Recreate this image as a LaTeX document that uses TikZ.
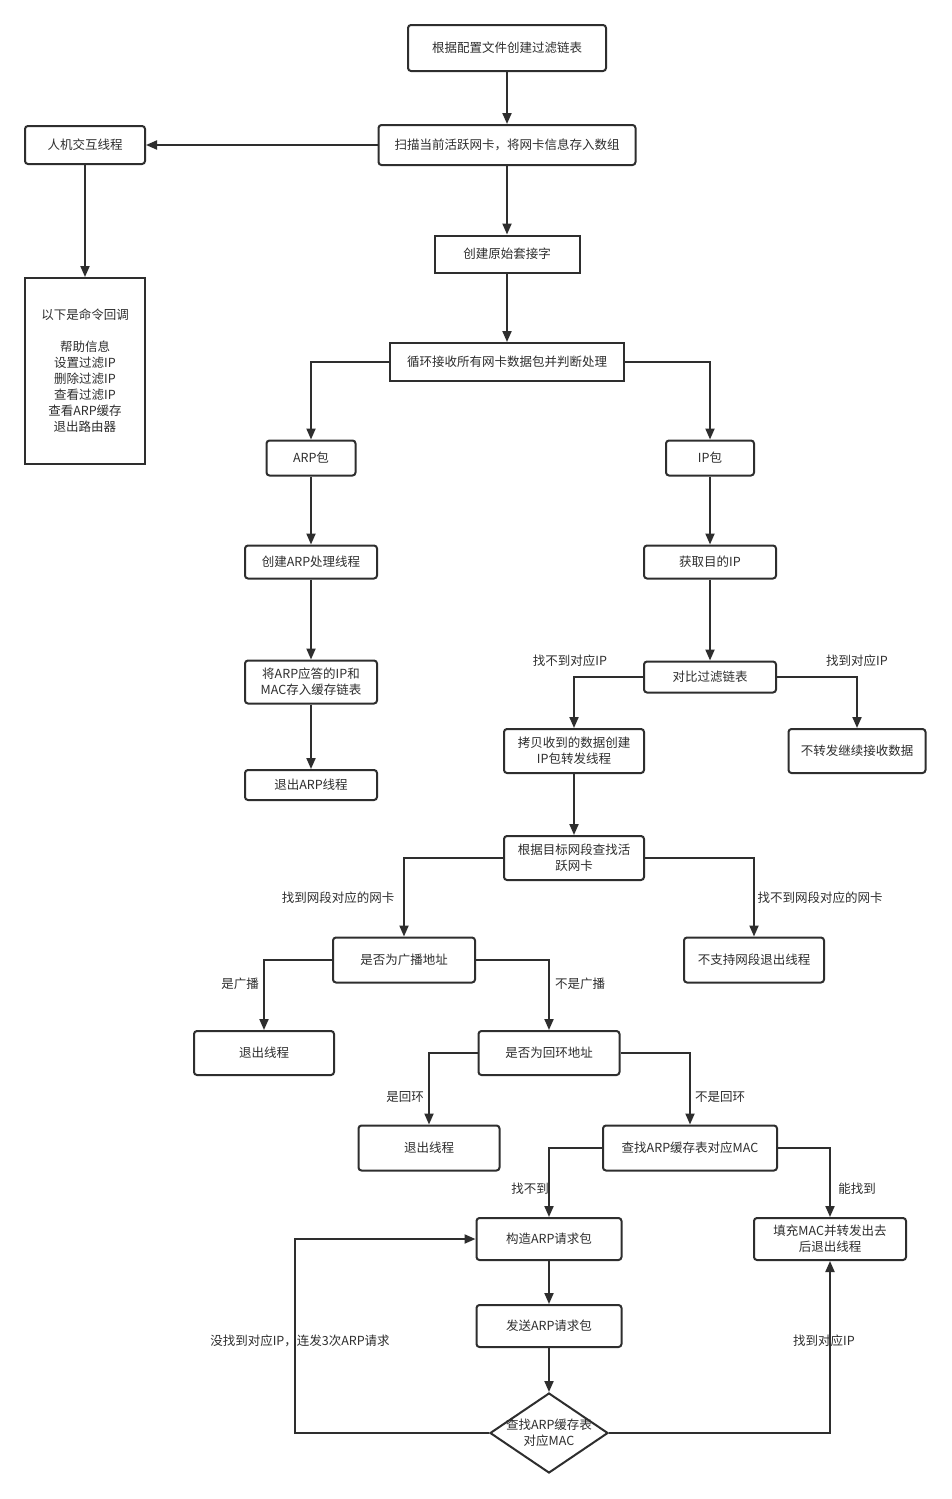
\documentclass[tikz,border=0pt]{standalone}
\usepackage{fontspec}
\setmainfont{Noto Sans CJK SC}
\usetikzlibrary{arrows.meta,shapes.geometric}
\definecolor{lc}{HTML}{2E2E2E}
\begin{document}
\begin{tikzpicture}[x=1pt,y=-1pt,
  box/.style={draw=lc, line width=2pt, rounded corners=3pt, fill=white, align=center,
    text=lc, font=\fontsize{12.5}{16}\selectfont, inner sep=0pt},
  sq/.style={box, rounded corners=0pt},
  ar/.style={draw=lc, line width=2pt, -{Triangle[length=11pt,width=9pt]}},
  lab/.style={font=\fontsize{12.5}{15}\selectfont, text=lc, inner sep=1pt}
]
\useasboundingbox[fill=white] (0,0) rectangle (951,1499);

% nodes
\node[box, minimum width=198pt, minimum height=46pt] (cfg) at (507,48) {根据配置文件创建过滤链表};
\node[box, minimum width=257pt, minimum height=40pt] (scan) at (507,145) {扫描当前活跃网卡，将网卡信息存入数组};
\node[box, minimum width=120pt, minimum height=38pt] (hci) at (85,145) {人机交互线程};
\node[sq, minimum width=145pt, minimum height=37pt] (sock) at (507,254) {创建原始套接字};
\node[sq, minimum width=120pt, minimum height=186pt] (cmd) at (85,371) {以下是命令回调\\[16pt]帮助信息\\设置过滤IP\\删除过滤IP\\查看过滤IP\\查看ARP缓存\\退出路由器};
\node[sq, minimum width=234pt, minimum height=38pt] (loop) at (507,362) {循环接收所有网卡数据包并判断处理};
\node[box, minimum width=89pt, minimum height=35pt] (arp) at (311,458) {ARP包};
\node[box, minimum width=88pt, minimum height=35pt] (ip) at (710,458) {IP包};
\node[box, minimum width=132pt, minimum height=33pt] (arpt) at (311,562) {创建ARP处理线程};
\node[box, minimum width=132pt, minimum height=33pt] (dst) at (710,562) {获取目的IP};
\node[box, minimum width=132pt, minimum height=43pt] (store) at (311,682) {将ARP应答的IP和\\MAC存入缓存链表};
\node[box, minimum width=132pt, minimum height=31pt] (cmp) at (710,677) {对比过滤链表};
\node[box, minimum width=132pt, minimum height=30pt] (arpx) at (311,785) {退出ARP线程};
\node[box, minimum width=140pt, minimum height=44pt] (copy) at (574,751) {拷贝收到的数据创建\\IP包转发线程};
\node[box, minimum width=137pt, minimum height=44pt] (nofw) at (857,751) {不转发继续接收数据};
\node[box, minimum width=140pt, minimum height=44pt] (find) at (574,858) {根据目标网段查找活\\跃网卡};
\node[box, minimum width=140pt, minimum height=45pt] (nosup) at (754,960) {不支持网段退出线程};
\node[box, minimum width=142pt, minimum height=45pt] (bc) at (404,960) {是否为广播地址};
\node[box, minimum width=140pt, minimum height=44pt] (ex1) at (264,1053) {退出线程};
\node[box, minimum width=141pt, minimum height=44pt] (lo) at (549,1053) {是否为回环地址};
\node[box, minimum width=141pt, minimum height=45pt] (ex2) at (429,1148) {退出线程};
\node[box, minimum width=174pt, minimum height=45pt] (look) at (690,1148) {查找ARP缓存表对应MAC};
\node[box, minimum width=145pt, minimum height=42pt] (build) at (549,1239) {构造ARP请求包};
\node[box, minimum width=152pt, minimum height=42pt] (fill) at (830,1239) {填充MAC并转发出去\\后退出线程};
\node[box, minimum width=145pt, minimum height=42pt] (send) at (549,1326) {发送ARP请求包};
\node[draw=lc, line width=2pt, fill=white, diamond, minimum width=118pt, minimum height=80pt,
  inner sep=0pt] (dia) at (549,1433) {};
\node[align=center, text=lc, font=\fontsize{12.5}{16}\selectfont, inner sep=0pt] (diat) at (dia.center) {查找ARP缓存表\\对应MAC};

\coordinate (loopL) at (295,1433);

% connectors
\draw[ar] (cfg) -- (scan);
\draw[ar] (scan.west) -- (hci.east);
\draw[ar] (hci) -- (cmd);
\draw[ar] (scan) -- (sock);
\draw[ar] (sock) -- (loop);
\draw[ar] (loop.west) -| (arp.north);
\draw[ar] (loop.east) -| (ip.north);
\draw[ar] (arp) -- (arpt);
\draw[ar] (arpt) -- (store);
\draw[ar] (store) -- (arpx);
\draw[ar] (ip) -- (dst);
\draw[ar] (dst) -- (cmp);
\draw[ar] (cmp.west) -| (copy.north);
\draw[ar] (cmp.east) -| (nofw.north);
\draw[ar] (copy) -- (find);
\draw[ar] (find.west) -| (bc.north);
\draw[ar] (find.east) -| (nosup.north);
\draw[ar] (bc.west) -| (ex1.north);
\draw[ar] (bc.east) -| (lo.north);
\draw[ar] (lo.west) -| (ex2.north);
\draw[ar] (lo.east) -| (look.north);
\draw[ar] (look.west) -| (build.north);
\draw[ar] (look.east) -| (fill.north);
\draw[ar] (build) -- (send);
\draw[ar] (send) -- (dia);
\draw[ar] (dia.west) -- (loopL) |- (build.west);
\draw[ar] (dia.east) -| (fill.south);

% labels
\node[lab] at (570,661) {找不到对应IP};
\node[lab] at (857,661) {找到对应IP};
\node[lab] at (338,898) {找到网段对应的网卡};
\node[lab] at (820,898) {找不到网段对应的网卡};
\node[lab] at (240,984) {是广播};
\node[lab] at (580,984) {不是广播};
\node[lab] at (405,1097) {是回环};
\node[lab] at (720,1097) {不是回环};
\node[lab] at (530,1189) {找不到};
\node[lab] at (857,1189) {能找到};
\node[lab] at (300,1341) {没找到对应IP，连发3次ARP请求};
\node[lab] at (824,1341) {找到对应IP};
\end{tikzpicture}
\end{document}
